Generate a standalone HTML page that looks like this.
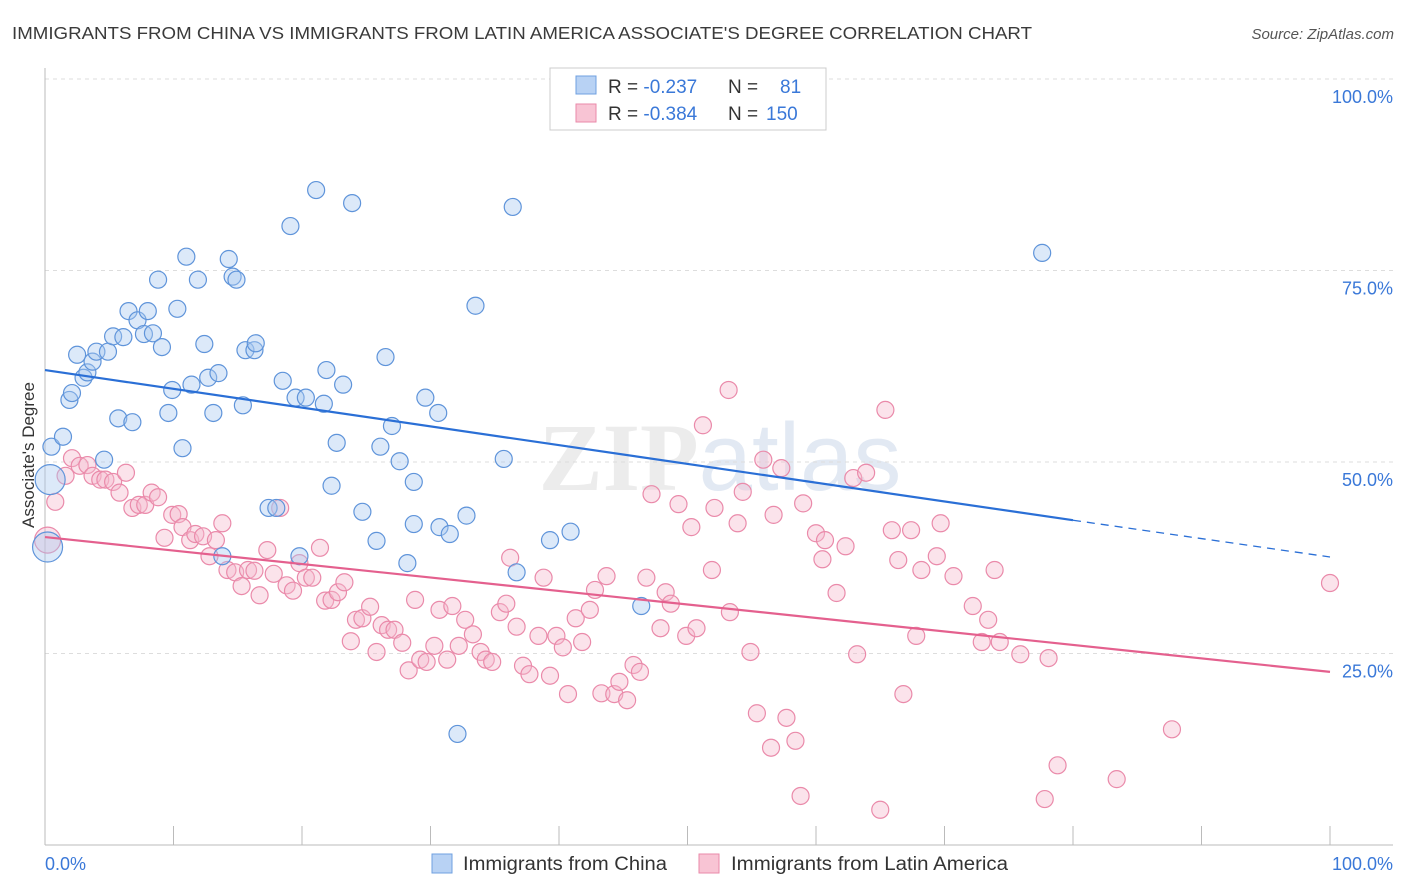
<!DOCTYPE html>
<html><head><meta charset="utf-8"><style>
body{margin:0;background:#fff;font-family:"Liberation Sans",sans-serif;}
svg{display:block}
</style></head><body>
<svg id="chart" width="1406" height="892">
<text x="12" y="39" font-size="17.5" fill="#3a3a3a" textLength="1020" lengthAdjust="spacingAndGlyphs">IMMIGRANTS FROM CHINA VS IMMIGRANTS FROM LATIN AMERICA ASSOCIATE'S DEGREE CORRELATION CHART</text>
<text x="1394" y="39" font-size="15" fill="#555" font-style="italic" text-anchor="end">Source: ZipAtlas.com</text>
<text x="720" y="490" font-size="96" fill="#ececec" text-anchor="middle" font-family="Liberation Serif,serif" font-weight="bold">ZIP<tspan font-family="Liberation Sans,sans-serif" font-weight="normal" fill="#e2e9f3">atlas</tspan></text>
<g id="grid"></g><g id="axes"></g><g id="marks"></g>
<text transform="translate(34,455) rotate(-90)" font-size="17" fill="#333" text-anchor="middle">Associate's Degree</text>
<g>
<rect x="550" y="68" width="276" height="62" fill="#fff" stroke="#ccc"/>
<rect x="576" y="76" width="20" height="18" fill="#b8d2f4" stroke="#6fa0e0"/>
<rect x="576" y="104" width="20" height="18" fill="#f8c4d4" stroke="#ea8aaa"/>
<text x="608" y="93" font-size="19" fill="#333">R = <tspan fill="#3a78d8">-0.237</tspan>   <tspan x="728">N =</tspan> <tspan x="780" fill="#3a78d8">81</tspan></text>
<text x="608" y="120" font-size="19" fill="#333">R = <tspan fill="#3a78d8">-0.384</tspan>   <tspan x="728">N =</tspan> <tspan x="766" fill="#3a78d8">150</tspan></text>
</g>
<g>
<rect x="432" y="854" width="20" height="19" fill="#b8d2f4" stroke="#6fa0e0"/>
<text x="463" y="870" font-size="19" fill="#333" textLength="204" lengthAdjust="spacingAndGlyphs">Immigrants from China</text>
<rect x="699" y="854" width="20" height="19" fill="#f8c4d4" stroke="#ea8aaa"/>
<text x="731" y="870" font-size="19" fill="#333" textLength="277" lengthAdjust="spacingAndGlyphs">Immigrants from Latin America</text>
</g>
</svg>
<script>
const yTicks=[25,50,75,100];
const yTickLabels=["25.0%","50.0%","75.0%","100.0%"];
const xTicks=[0,10,20,30,40,50,60,70,80,90,100];
const chinaX=[0.5,1.4,1.9,2.1,2.5,3.0,3.3,3.7,4.0,4.9,4.6,5.3,5.7,6.1,6.5,6.8,7.2,7.7,8.0,8.4,8.8,9.1,9.6,9.9,10.3,10.7,11.0,11.4,11.9,12.4,12.7,13.1,13.5,14.3,14.6,14.9,15.4,15.6,16.3,16.4,17.4,18.0,18.5,19.1,19.5,19.8,20.3,21.1,21.7,21.9,22.3,22.7,23.2,23.9,24.7,25.8,26.1,26.5,27.0,27.6,28.2,28.7,28.7,29.6,30.6,30.7,31.5,32.1,32.8,33.5,35.7,36.4,36.7,39.3,40.9,46.4,77.6,13.8];
const chinaY=[52.0,53.3,58.1,59.0,64.0,61.0,61.7,63.1,64.4,64.4,50.3,66.4,55.7,66.3,69.7,55.2,68.5,66.7,69.7,66.8,73.8,65.0,56.4,59.4,70.0,51.8,76.8,60.1,73.8,65.4,61.0,56.4,61.6,76.5,74.2,73.8,57.4,64.6,64.6,65.5,44.0,44.0,60.6,80.8,58.4,37.7,58.4,85.5,57.6,62.0,46.9,52.5,60.1,83.8,43.5,39.7,52.0,63.7,54.7,50.1,36.8,47.4,41.9,58.4,56.4,41.5,40.6,14.5,43.0,70.4,50.4,83.3,35.6,39.8,40.9,31.2,77.3,37.7];
const chinaBigX=[0.2,0.4];
const chinaBigY=[38.9,47.7];
const latinX=[0.8,1.6,2.1,2.7,3.3,3.7,4.3,4.7,5.3,5.8,6.3,6.8,7.3,7.8,8.3,8.8,9.3,9.9,10.4,10.7,11.3,11.7,12.3,12.8,13.3,13.8,14.2,14.8,15.3,15.8,16.3,16.7,17.3,17.8,18.3,18.8,19.3,19.8,20.3,20.8,21.4,21.8,22.3,22.8,23.3,23.8,24.2,24.7,25.3,25.8,26.2,26.7,27.2,27.8,28.3,28.8,29.2,29.7,30.3,30.7,31.3,31.7,32.2,32.7,33.3,33.9,34.3,34.8,35.4,35.9,36.2,36.7,37.2,37.7,38.4,38.8,39.3,39.8,40.3,40.7,41.3,41.8,42.4,42.8,43.3,43.7,44.3,44.7,45.3,45.8,46.3,46.8,47.2,47.9,48.3,48.7,49.3,49.9,50.3,50.7,51.2,51.9,52.1,53.2,53.3,53.9,54.3,54.9,55.4,55.9,56.5,56.7,57.3,57.7,58.4,58.8,59.0,60.0,60.5,60.7,61.6,62.3,62.9,63.2,63.9,65.0,65.4,65.9,66.4,66.8,67.4,67.8,68.2,69.4,69.7,70.7,72.2,72.9,73.4,73.9,74.3,75.9,77.8,78.1,78.8,83.4,87.7,100];
const latinY=[44.8,48.2,50.5,49.5,49.6,48.2,47.7,47.7,47.4,46.0,48.6,44.0,44.4,44.4,46.0,45.4,40.1,43.1,43.2,41.5,39.8,40.6,40.3,37.7,39.8,42.0,35.9,35.6,33.8,35.9,35.8,32.6,38.5,35.4,44.0,33.9,33.2,36.8,34.9,34.9,38.8,31.9,32.0,33.0,34.3,26.6,29.4,29.6,31.1,25.2,28.7,28.1,28.1,26.4,22.8,32.0,24.2,23.9,26.0,30.7,24.2,31.2,26.0,29.4,27.5,25.2,24.2,23.9,30.4,31.5,37.5,28.5,23.4,22.3,27.3,34.9,22.1,27.3,25.8,19.7,29.6,26.5,30.7,33.3,19.8,35.1,19.7,21.3,18.9,23.5,22.6,34.9,45.8,28.3,33.0,31.5,44.5,27.3,41.5,28.3,54.8,35.9,44.0,59.4,30.4,42.0,46.1,25.2,17.2,50.3,12.7,43.1,49.2,16.6,13.6,6.4,44.6,40.7,37.3,39.8,32.9,39.0,47.9,24.9,48.6,4.6,56.8,41.1,37.2,19.7,41.1,27.3,35.9,37.7,42.0,35.1,31.2,26.5,29.4,35.9,26.5,24.9,6.0,24.4,10.4,8.6,15.1,34.2];
const latinBigX=[0.2];
const latinBigY=[39.8];
const chinaTrendX=[0,80,100];
const chinaTrendY=[62.0,42.4,37.6];
const latinTrendX=[0,100];
const latinTrendY=[40.2,22.6];

const NS="http://www.w3.org/2000/svg";
const X0=45,X1=1330,Y0=845,Y100=79;
function sx(v){return X0+(X1-X0)*v/100;}
function sy(v){return Y0-(Y0-Y100)*v/100;}
function mk(tag,attrs,parent){const e=document.createElementNS(NS,tag);for(const k in attrs)e.setAttribute(k,attrs[k]);parent.appendChild(e);return e;}
const grid=document.getElementById('grid'),axes=document.getElementById('axes'),marks=document.getElementById('marks');
yTicks.forEach((t,i)=>{
  const l=mk('line',{x1:45,x2:1393,y1:sy(t),y2:sy(t),stroke:'#ddd','stroke-dasharray':'4,4'},grid);
  
  
  const tx=mk('text',{x:1393,y:sy(t)+24,'font-size':18,fill:'#3a78d8','text-anchor':'end'},axes);
  tx.textContent=yTickLabels[i];
  
  
});
const ax=mk('line',{x1:45,x2:1393,y1:Y0,y2:Y0,stroke:'#bbb'},axes);


const ay=mk('line',{x1:45,x2:45,y1:68,y2:Y0,stroke:'#bbb'},axes);


xTicks.forEach(t=>{
  const l=mk('line',{x1:sx(t),x2:sx(t),y1:826,y2:Y0,stroke:'#bbb'},axes);
  
  
});
[[0,"0.0%",'start',45],[100,"100.0%",'end',1393]].forEach(a=>{
  const tx=mk('text',{x:a[3],y:870,'font-size':18,fill:'#3a78d8','text-anchor':a[2]},axes);
  tx.textContent=a[1];
  
  
});
function dots(xs,ys,r,fill,stroke,name){
  xs.forEach((x,i)=>{
    const c=mk('circle',{cx:sx(x),cy:sy(ys[i]),r:r,fill:fill,'fill-opacity':0.4,stroke:stroke,'stroke-width':1.2},marks);
    
    
  });
}
dots(latinX,latinY,8.5,'#f5b8cc','#ea8aaa','latin-america-point');
dots(latinBigX,latinBigY,13,'#f5b8cc','#ea8aaa','latin-america-point');
dots(chinaX,chinaY,8.5,'#a8c8f0','#5f94da','china-point');
dots(chinaBigX,chinaBigY,15,'#a8c8f0','#5f94da','china-point');
const bt=mk('line',{x1:sx(chinaTrendX[0]),y1:sy(chinaTrendY[0]),x2:sx(chinaTrendX[1]),y2:sy(chinaTrendY[1]),stroke:'#2a6fd6','stroke-width':2.2},marks);


const bd=mk('line',{x1:sx(chinaTrendX[1]),y1:sy(chinaTrendY[1]),x2:sx(chinaTrendX[2]),y2:sy(chinaTrendY[2]),stroke:'#2a6fd6','stroke-width':1.3,'stroke-dasharray':'8,6'},marks);


const pt=mk('line',{x1:sx(latinTrendX[0]),y1:sy(latinTrendY[0]),x2:sx(latinTrendX[1]),y2:sy(latinTrendY[1]),stroke:'#e4608e','stroke-width':2.2},marks);


</script>
</body></html>
